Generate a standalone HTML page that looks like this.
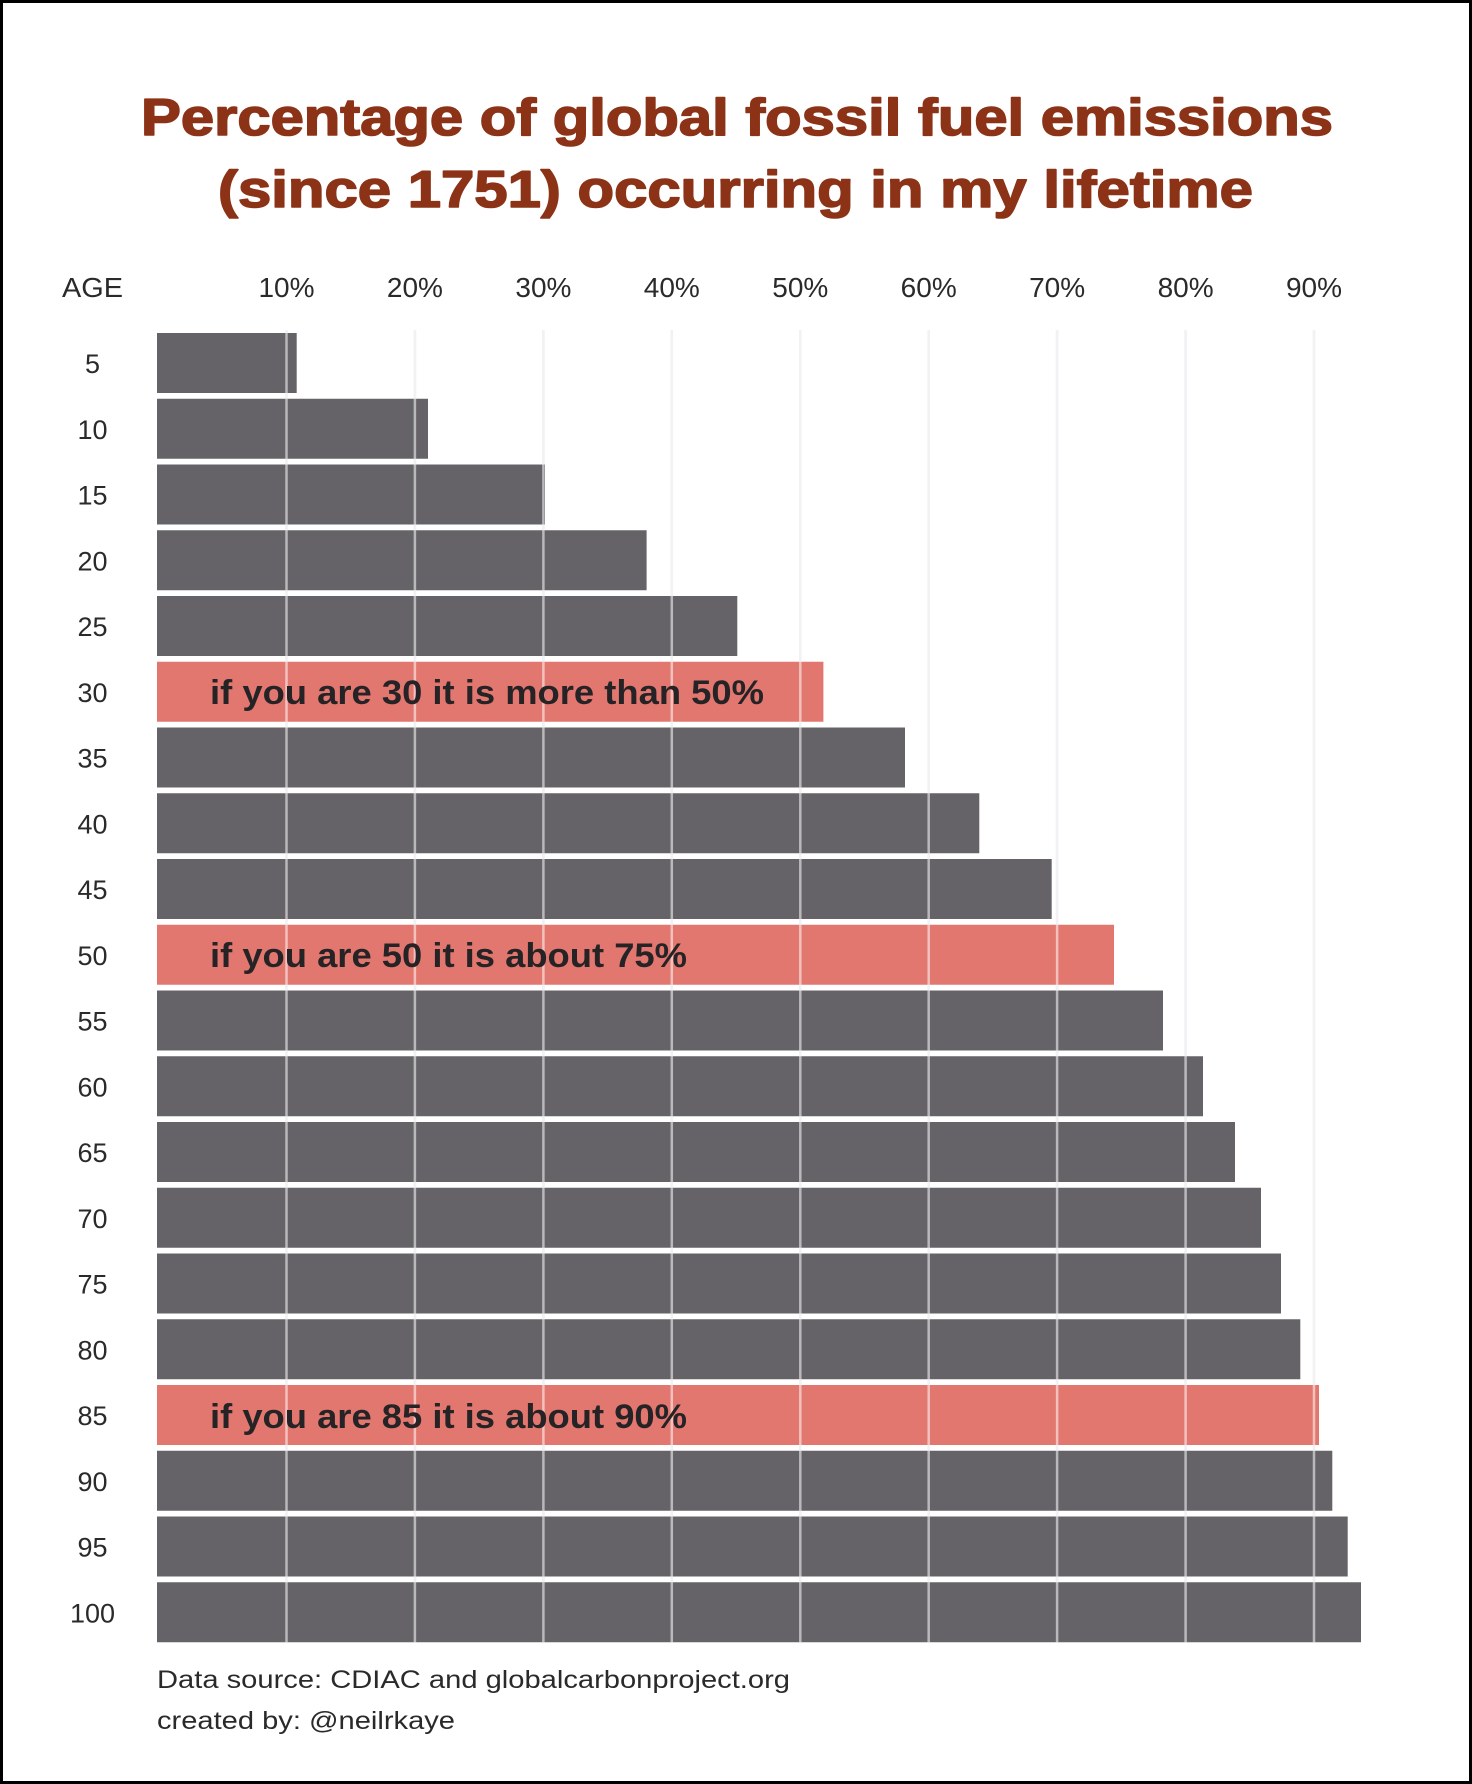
<!DOCTYPE html>
<html>
<head>
<meta charset="utf-8">
<style>
  html, body { margin: 0; padding: 0; background: #fff; }
  svg { display: block; }
</style>
</head>
<body>
<svg width="1472" height="1784" viewBox="0 0 1472 1784" xmlns="http://www.w3.org/2000/svg">
  <rect x="0" y="0" width="1472" height="1784" fill="#ffffff"/>
  <!-- border -->
  <rect x="1.5" y="1.5" width="1469" height="1781" fill="none" stroke="#000" stroke-width="3"/>

  <!-- title -->
  <g font-family="'Liberation Sans', sans-serif" font-weight="bold" fill="#8c3317" stroke="#8c3317" stroke-width="1.6" stroke-linejoin="round" font-size="52">
    <text x="141" y="135" textLength="1192" lengthAdjust="spacingAndGlyphs">Percentage of global fossil fuel emissions</text>
    <text x="218" y="207" textLength="1035" lengthAdjust="spacingAndGlyphs">(since 1751) occurring in my lifetime</text>
  </g>

  <!-- header row -->
  <g font-family="'Liberation Sans', sans-serif" fill="#2a2a2a" font-size="28">
    <text x="62" y="297" textLength="61" lengthAdjust="spacingAndGlyphs">AGE</text>
    <g text-anchor="middle">
      <text x="286.5" y="297">10%</text>
      <text x="414.9" y="297">20%</text>
      <text x="543.4" y="297">30%</text>
      <text x="671.8" y="297">40%</text>
      <text x="800.3" y="297">50%</text>
      <text x="928.7" y="297">60%</text>
      <text x="1057.1" y="297">70%</text>
      <text x="1185.6" y="297">80%</text>
      <text x="1314" y="297">90%</text>
    </g>
  </g>

  <!-- background gridlines -->
  <g stroke="#e3e2e7" stroke-width="2.5">
    <line x1="286.5" y1="330" x2="286.5" y2="1643"/>
    <line x1="414.9" y1="330" x2="414.9" y2="1643"/>
    <line x1="543.4" y1="330" x2="543.4" y2="1643"/>
    <line x1="671.8" y1="330" x2="671.8" y2="1643"/>
    <line x1="800.3" y1="330" x2="800.3" y2="1643"/>
    <line x1="928.7" y1="330" x2="928.7" y2="1643"/>
    <line x1="1057.1" y1="330" x2="1057.1" y2="1643"/>
    <line x1="1185.6" y1="330" x2="1185.6" y2="1643"/>
    <line x1="1314" y1="330" x2="1314" y2="1643"/>
  </g>

  <!-- bars -->
  <g fill="#656367">
    <rect x="157" y="333" width="139.7" height="60"/>
    <rect x="157" y="398.75" width="271" height="60"/>
    <rect x="157" y="464.5" width="388" height="60"/>
    <rect x="157" y="530.25" width="489.6" height="60"/>
    <rect x="157" y="596" width="580.3" height="60"/>
    <rect x="157" y="727.5" width="748" height="60"/>
    <rect x="157" y="793.25" width="822.3" height="60"/>
    <rect x="157" y="859" width="894.7" height="60"/>
    <rect x="157" y="990.5" width="1006" height="60"/>
    <rect x="157" y="1056.25" width="1046" height="60"/>
    <rect x="157" y="1122" width="1078" height="60"/>
    <rect x="157" y="1187.75" width="1104" height="60"/>
    <rect x="157" y="1253.5" width="1124" height="60"/>
    <rect x="157" y="1319.25" width="1143.3" height="60"/>
    <rect x="157" y="1450.75" width="1175.3" height="60"/>
    <rect x="157" y="1516.5" width="1190.7" height="60"/>
    <rect x="157" y="1582.25" width="1204" height="60"/>
  </g>
  <g fill="#e2776f">
    <rect x="157" y="661.75" width="666.4" height="60"/>
    <rect x="157" y="924.75" width="957" height="60"/>
    <rect x="157" y="1385" width="1162" height="60"/>
  </g>

  <!-- gridlines over bars -->
  <g stroke="#ffffff" stroke-opacity="0.55" stroke-width="2.5">
    <line x1="286.5" y1="330" x2="286.5" y2="1643"/>
    <line x1="414.9" y1="330" x2="414.9" y2="1643"/>
    <line x1="543.4" y1="330" x2="543.4" y2="1643"/>
    <line x1="671.8" y1="330" x2="671.8" y2="1643"/>
    <line x1="800.3" y1="330" x2="800.3" y2="1643"/>
    <line x1="928.7" y1="330" x2="928.7" y2="1643"/>
    <line x1="1057.1" y1="330" x2="1057.1" y2="1643"/>
    <line x1="1185.6" y1="330" x2="1185.6" y2="1643"/>
    <line x1="1314" y1="330" x2="1314" y2="1643"/>
  </g>

  <!-- annotation text -->
  <g font-family="'Liberation Sans', sans-serif" font-weight="bold" fill="#262326" font-size="34">
    <text x="210" y="704" textLength="554" lengthAdjust="spacingAndGlyphs">if you are 30 it is more than 50%</text>
    <text x="210" y="967" textLength="477" lengthAdjust="spacingAndGlyphs">if you are 50 it is about 75%</text>
    <text x="210" y="1428" textLength="477" lengthAdjust="spacingAndGlyphs">if you are 85 it is about 90%</text>
  </g>

  <!-- age labels -->
  <g font-family="'Liberation Sans', sans-serif" fill="#2a2a2a" font-size="27" text-anchor="middle">
    <text x="92.5" y="373">5</text>
    <text x="92.5" y="438.75">10</text>
    <text x="92.5" y="504.5">15</text>
    <text x="92.5" y="570.25">20</text>
    <text x="92.5" y="636">25</text>
    <text x="92.5" y="701.75">30</text>
    <text x="92.5" y="767.5">35</text>
    <text x="92.5" y="833.25">40</text>
    <text x="92.5" y="899">45</text>
    <text x="92.5" y="964.75">50</text>
    <text x="92.5" y="1030.5">55</text>
    <text x="92.5" y="1096.25">60</text>
    <text x="92.5" y="1162">65</text>
    <text x="92.5" y="1227.75">70</text>
    <text x="92.5" y="1293.5">75</text>
    <text x="92.5" y="1359.25">80</text>
    <text x="92.5" y="1425">85</text>
    <text x="92.5" y="1490.75">90</text>
    <text x="92.5" y="1556.5">95</text>
    <text x="92.5" y="1622.25">100</text>
  </g>

  <!-- footer -->
  <g font-family="'Liberation Sans', sans-serif" fill="#2a2a2a" font-size="25">
    <text x="157" y="1688" textLength="633" lengthAdjust="spacingAndGlyphs">Data source: CDIAC and globalcarbonproject.org</text>
    <text x="157" y="1729" textLength="298" lengthAdjust="spacingAndGlyphs">created by: @neilrkaye</text>
  </g>
</svg>
</body>
</html>
